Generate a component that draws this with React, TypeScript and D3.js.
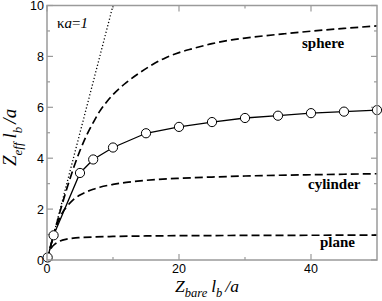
import React from "react";
import * as d3 from "d3";

const sphereX = [0, 1, 2, 3, 4, 5, 6, 7, 8, 9, 10, 11, 12, 14, 16, 18, 20, 22, 25, 28, 30, 33, 36, 40, 45, 50];
const sphereY = [0, 0.98, 1.92, 2.8, 3.6, 4.3, 4.9, 5.4, 5.85, 6.2, 6.5, 6.75, 6.97, 7.35, 7.68, 7.95, 8.15, 8.3, 8.5, 8.65, 8.72, 8.81, 8.89, 8.99, 9.1, 9.2];

const cylinderX = [0, 0.5, 1, 1.5, 2, 2.5, 3, 4, 5, 6, 7, 8, 10, 12, 15, 20, 25, 30, 35, 40, 45, 50];
const cylinderY = [0, 0.5, 0.97, 1.38, 1.7, 1.93, 2.1, 2.37, 2.55, 2.68, 2.78, 2.86, 2.97, 3.05, 3.13, 3.21, 3.26, 3.3, 3.33, 3.35, 3.37, 3.39];

const planeX = [0, 0.25, 0.5, 0.75, 1, 1.5, 2, 3, 4, 5, 7, 10, 15, 20, 30, 40, 50];
const planeY = [0, 0.23, 0.4, 0.51, 0.58, 0.68, 0.75, 0.82, 0.86, 0.88, 0.905, 0.925, 0.945, 0.955, 0.965, 0.972, 0.978];

const simX = [0.1, 1, 5, 7, 10, 15, 20, 25, 30, 35, 40, 45, 50];
const simY = [0.1, 0.97, 3.42, 3.95, 4.42, 4.98, 5.23, 5.42, 5.58, 5.67, 5.77, 5.83, 5.89];

const idealX = [0, 10];
const idealY = [0, 10];

const xMajor = [0, 20, 40];
const xMinor = [10, 30];
const yMajor = [0, 2, 4, 6, 8, 10];
const yMinor = [1, 3, 5, 7, 9];

const W = 382, H = 301;
const margin = { top: 5.5, right: 5, bottom: 41, left: 47 };
const serif = "'Liberation Serif', 'Times New Roman', serif";
const sans = "'Liberation Sans', Arial, sans-serif";

export default function App() {
  const x = d3.scaleLinear().domain([0, 50]).range([margin.left, W - margin.right]);
  const y = d3.scaleLinear().domain([0, 10]).range([H - margin.bottom, margin.top]);
  const [x0, x1] = x.range();
  const [y0, y1] = y.range();

  const zip = (xs: number[], ys: number[]) => xs.map((v, i) => [v, ys[i]] as [number, number]);
  const smooth = d3.line<[number, number]>().x(d => x(d[0])).y(d => y(d[1])).curve(d3.curveMonotoneX);
  const straight = d3.line<[number, number]>().x(d => x(d[0])).y(d => y(d[1]));

  const axisColor = "#9a9a9a";

  return (
    <svg width={W} height={H} style={{ position: "absolute", left: 0, top: 0, display: "block", background: "#fff" }}>
      <defs>
        <clipPath id="plot">
          <rect x={x0} y={y1} width={x1 - x0} height={y0 - y1} />
        </clipPath>
      </defs>

      {/* ticks, mirrored on all four sides */}
      <g stroke={axisColor} strokeWidth={1.2}>
        {xMajor.map(v => (
          <g key={"xM" + v}>
            <line x1={x(v)} x2={x(v)} y1={y0} y2={y0 - 6} />
            <line x1={x(v)} x2={x(v)} y1={y1} y2={y1 + 6} />
          </g>
        ))}
        {xMinor.map(v => (
          <g key={"xm" + v}>
            <line x1={x(v)} x2={x(v)} y1={y0} y2={y0 - 3} />
            <line x1={x(v)} x2={x(v)} y1={y1} y2={y1 + 3} />
          </g>
        ))}
        {yMajor.map(v => (
          <g key={"yM" + v}>
            <line x1={x0} x2={x0 + 6} y1={y(v)} y2={y(v)} />
            <line x1={x1} x2={x1 - 6} y1={y(v)} y2={y(v)} />
          </g>
        ))}
        {yMinor.map(v => (
          <g key={"ym" + v}>
            <line x1={x0} x2={x0 + 3} y1={y(v)} y2={y(v)} />
            <line x1={x1} x2={x1 - 3} y1={y(v)} y2={y(v)} />
          </g>
        ))}
      </g>

      {/* tick labels */}
      <g fontFamily={sans} fontSize={12.5} fill="#000">
        {xMajor.map(v => (
          <text key={"xl" + v} x={x(v)} y={y0 + 13} textAnchor="middle">{v}</text>
        ))}
        {yMajor.map(v => (
          <text key={"yl" + v} x={x0 - 3} y={y(v) + 4.5} textAnchor="end">{v}</text>
        ))}
      </g>

      {/* curves */}
      <g clipPath="url(#plot)" fill="none" stroke="#000">
        <path d={straight(zip(idealX, idealY)) ?? ""} strokeWidth={1.3} strokeDasharray="1.2,2.2" />
        <path d={smooth(zip(sphereX, sphereY)) ?? ""} strokeWidth={1.7} strokeDasharray="8,4" />
        <path d={smooth(zip(cylinderX, cylinderY)) ?? ""} strokeWidth={1.7} strokeDasharray="8,4" />
        <path d={smooth(zip(planeX, planeY)) ?? ""} strokeWidth={1.7} strokeDasharray="8,4" />
        <path d={straight(zip(simX, simY)) ?? ""} strokeWidth={1.3} />
      </g>
      <g fill="#fff" stroke="#000" strokeWidth={1}>
        {simX.map((v, i) => (
          <circle key={"c" + i} cx={x(v)} cy={y(simY[i])} r={4.6} />
        ))}
      </g>

      {/* frame */}
      <rect x={x0} y={y1} width={x1 - x0} height={y0 - y1} fill="none" stroke={axisColor} strokeWidth={1.5} />

      {/* annotations */}
      <text x={57} y={28} fontFamily={serif} fontSize={15}>
        κ<tspan fontStyle="italic">a</tspan>=<tspan fontStyle="italic">1</tspan>
      </text>
      <g fontFamily={serif} fontSize={15} fontWeight="bold">
        <text x={302} y={48}>sphere</text>
        <text x={308} y={189}>cylinder</text>
        <text x={320} y={246.5}>plane</text>
      </g>

      {/* axis titles */}
      <text x={175} y={292} fontFamily={serif} fontStyle="italic" fontSize={17.5}>
        Z<tspan fontSize={12.5} dy={4.5}>bare</tspan>
        <tspan dy={-4.5} dx={4}>l</tspan>
        <tspan fontSize={12.5} dy={4.5}>b</tspan>
        <tspan dy={-4.5} dx={3}>/a</tspan>
      </text>
      <text transform="translate(16,166) rotate(-90)" fontFamily={serif} fontStyle="italic" fontSize={19}>
        Z<tspan fontSize={13} dy={6}>eff</tspan>
        <tspan dy={-6} dx={4}>l</tspan>
        <tspan fontSize={13} dy={6}>b</tspan>
        <tspan dy={-6} dx={3}>/a</tspan>
      </text>
    </svg>
  );
}
